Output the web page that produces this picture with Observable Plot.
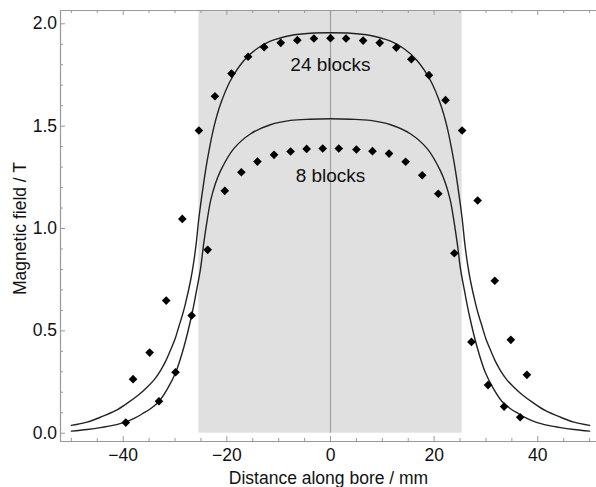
<!DOCTYPE html>
<html>
<head>
<meta charset="utf-8">
<script src="https://cdn.jsdelivr.net/npm/d3@7"></script>
<script src="https://cdn.jsdelivr.net/npm/@observablehq/plot@0.6"></script>
<style>
  html, body { margin: 0; padding: 0; background: white; }
</style>
</head>
<body>
<div id="chart"></div>
<script>
// ---- Data ----
const pts24X = [-38.1, -34.9, -31.7, -28.6, -25.4, -22.3, -19.1, -15.9, -12.8, -9.6, -6.4, -3.2, 0, 3.0, 6.3, 9.5, 12.7, 15.6, 19.0, 22.2, 25.4, 28.4, 31.7, 34.8, 37.9];
const pts24Y = [0.264, 0.394, 0.648, 1.047, 1.479, 1.646, 1.757, 1.839, 1.886, 1.907, 1.920, 1.928, 1.930, 1.928, 1.918, 1.907, 1.884, 1.827, 1.749, 1.627, 1.479, 1.137, 0.745, 0.456, 0.285];

const pts8X = [-39.5, -33.1, -29.9, -26.8, -23.7, -20.4, -17.2, -14.1, -10.9, -7.7, -4.6, -1.5, 1.6, 5.0, 8.1, 11.3, 14.5, 17.7, 20.8, 23.9, 27.2, 30.4, 33.5, 36.6];
const pts8Y = [0.052, 0.156, 0.298, 0.575, 0.896, 1.184, 1.275, 1.327, 1.360, 1.376, 1.389, 1.391, 1.391, 1.386, 1.378, 1.366, 1.326, 1.260, 1.170, 0.879, 0.446, 0.235, 0.130, 0.078];

const curve24X = [-50, -47, -44.4, -41.5, -39.2, -37, -35.4, -34, -32.8, -31.8, -30.9, -30, -29.3, -28.6, -28, -27, -26.4, -25.9, -25.4, -24.6, -23.8, -22.5, -21.2, -19.3, -16.7, -14.2, -11.6, -7.7, -3.9, 0,
                  3.9, 7.7, 11.6, 14.2, 16.7, 19.3, 21.2, 22.5, 23.8, 24.6, 25.4, 25.9, 26.4, 27, 28, 28.6, 29.3, 30, 30.9, 31.8, 32.8, 34, 35.4, 37, 39.2, 41.5, 44.4, 47, 50];
const curve24Y = [0.038, 0.054, 0.078, 0.110, 0.147, 0.188, 0.225, 0.262, 0.306, 0.352, 0.404, 0.460, 0.518, 0.575, 0.632, 0.746, 0.835, 0.930, 1.050, 1.200, 1.330, 1.495, 1.609, 1.723, 1.821, 1.878, 1.915, 1.943, 1.954, 1.956,
                  1.954, 1.943, 1.915, 1.878, 1.821, 1.723, 1.609, 1.495, 1.330, 1.200, 1.050, 0.930, 0.835, 0.746, 0.632, 0.575, 0.518, 0.460, 0.404, 0.352, 0.306, 0.262, 0.225, 0.188, 0.147, 0.110, 0.078, 0.054, 0.038];

const curve8X = [-50, -47, -44.4, -42, -39.6, -37.9, -36.3, -34.6, -33.1, -31.5, -29.9, -28.3, -26.8, -25.9, -25.1, -24.5, -23.8, -23.1, -22.2, -21.2, -18.7, -15.4, -11.6, -7.7, -3.9, 0,
                 3.9, 7.7, 11.6, 15.4, 18.7, 21.2, 22.2, 23.1, 23.8, 24.5, 25.1, 25.9, 26.8, 28.3, 29.9, 31.5, 33.1, 34.6, 36.3, 37.9, 39.6, 42, 44.4, 47, 50];
const curve8Y = [0.010, 0.018, 0.027, 0.038, 0.054, 0.072, 0.095, 0.122, 0.155, 0.215, 0.295, 0.420, 0.575, 0.690, 0.800, 0.920, 1.040, 1.140, 1.220, 1.283, 1.389, 1.463, 1.507, 1.528, 1.534, 1.536,
                 1.534, 1.528, 1.507, 1.463, 1.389, 1.283, 1.220, 1.140, 1.040, 0.920, 0.800, 0.690, 0.575, 0.420, 0.295, 0.215, 0.155, 0.122, 0.095, 0.072, 0.054, 0.038, 0.027, 0.018, 0.010];

const shadeX = [-25.4, 25.4];
const seriesLabels = ["24 blocks", "8 blocks"];
const seriesLabelX = [0, 0];
const seriesLabelY = [1.798, 1.255];

const xTicks = [-40, -20, 0, 20, 40];
const xTickLabels = ["\u221240", "\u221220", "0", "20", "40"];
const xMinorTicks = [-50, -45, -35, -30, -25, -15, -10, -5, 5, 10, 15, 25, 30, 35, 45, 50];
const yTicks = [0, 0.5, 1, 1.5, 2];
const yTickLabels = ["0.0", "0.5", "1.0", "1.5", "2.0"];
const yMinorTicks = [0.1, 0.2, 0.3, 0.4, 0.6, 0.7, 0.8, 0.9, 1.1, 1.2, 1.3, 1.4, 1.6, 1.7, 1.8, 1.9];

const xLabel = "Distance along bore / mm";
const yLabel = "Magnetic field / T";

// ---- Build tables ----
const pts24 = pts24X.map((x, i) => ({x, y: pts24Y[i]}));
const pts8 = pts8X.map((x, i) => ({x, y: pts8Y[i]}));
const c24 = curve24X.map((x, i) => ({x, y: curve24Y[i]}));
const c8 = curve8X.map((x, i) => ({x, y: curve8Y[i]}));
const labels = seriesLabels.map((t, i) => ({t, x: seriesLabelX[i], y: seriesLabelY[i]}));

const xDomain = [-52.1, 51.33];
const yDomain = [-0.0405, 2.065];
const W = 596, H = 487, mL = 60, mR = 0, mT = 10, mB = 46;
const frameH = H - mT - mB;
const frameW = W - mL - mR;
const axisColor = "#999999";
const FONT = "'Liberation Sans', Arial, sans-serif";

const chart = Plot.plot({
  width: W,
  height: H,
  marginLeft: mL,
  marginRight: mR,
  marginTop: mT,
  marginBottom: mB,
  style: {fontFamily: FONT, fontSize: "17.5px", color: "#111", background: "white"},
  x: {domain: xDomain},
  y: {domain: yDomain},
  marks: [
    // shaded magnet region
    Plot.rect([0], {x1: shadeX[0], x2: shadeX[1], y1: 0, y2: yDomain[1], fill: "#e0e0e0"}),
    // centre line
    Plot.ruleX([0], {y1: 0, y2: yDomain[1], stroke: "#a3a3a3", strokeWidth: 1.3}),
    // frame lines
    Plot.ruleY([yDomain[0]], {stroke: axisColor, strokeWidth: 1.2}),
    Plot.ruleY([yDomain[1]], {stroke: axisColor, strokeWidth: 1.2}),
    Plot.ruleX([xDomain[0]], {stroke: axisColor, strokeWidth: 1.2}),
    // bottom ticks
    Plot.tickX(xTicks, {x: d => d, insetTop: frameH - 5, stroke: axisColor}),
    Plot.tickX(xMinorTicks, {x: d => d, insetTop: frameH - 3, stroke: axisColor}),
    // top ticks
    Plot.tickX(xTicks, {x: d => d, insetBottom: frameH - 5, stroke: axisColor}),
    Plot.tickX(xMinorTicks, {x: d => d, insetBottom: frameH - 3, stroke: axisColor}),
    // left ticks
    Plot.tickY(yTicks, {y: d => d, insetRight: frameW - 5, stroke: axisColor}),
    Plot.tickY(yMinorTicks, {y: d => d, insetRight: frameW - 3, stroke: axisColor}),
    // tick labels
    Plot.axisX({ticks: xTicks, tickFormat: d => xTickLabels[xTicks.indexOf(d)], tickSize: 0, tickPadding: 7, label: null, fill: "#111"}),
    Plot.axisY({ticks: yTicks, tickFormat: d => yTickLabels[yTicks.indexOf(d)], tickSize: 0, tickPadding: 3.5, label: null, fill: "#111"}),
    // model curves
    Plot.line(c24, {x: "x", y: "y", curve: "catmull-rom", stroke: "#222", strokeWidth: 1.4}),
    Plot.line(c8, {x: "x", y: "y", curve: "catmull-rom", stroke: "#222", strokeWidth: 1.4}),
    // measured points
    Plot.dot(pts24, {x: "x", y: "y", symbol: "diamond2", r: 3.9, fill: "black", stroke: "none"}),
    Plot.dot(pts8, {x: "x", y: "y", symbol: "diamond2", r: 3.9, fill: "black", stroke: "none"}),
    // series labels
    Plot.text(labels, {x: "x", y: "y", text: "t", fontSize: 19, fill: "#111"}),
    // axis labels
    Plot.text([xLabel], {frameAnchor: "bottom", textAnchor: "middle", lineAnchor: "middle", dy: 36.7, fontSize: 17.5, fill: "#111"}),
    Plot.text([yLabel], {frameAnchor: "left", textAnchor: "middle", lineAnchor: "middle", rotate: -90, dx: -40.6, dy: 2.5, fontSize: 17.5, fill: "#111"})
  ]
});
document.getElementById("chart").appendChild(chart);
</script>
</body>
</html>
